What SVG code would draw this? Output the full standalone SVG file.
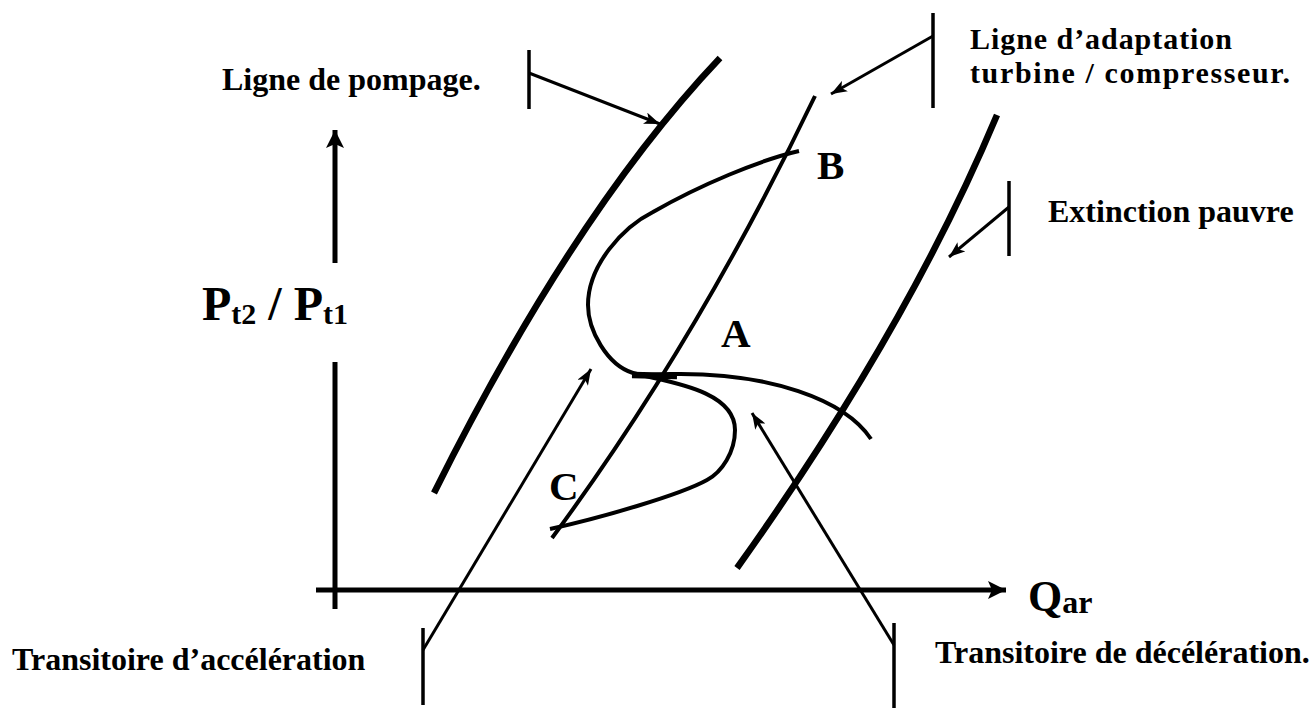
<svg xmlns="http://www.w3.org/2000/svg" width="1316" height="709" viewBox="0 0 1316 709">
<style>
text{font-family:"Liberation Serif","Times New Roman",serif;font-weight:bold;fill:#000}
.lbl{font-size:32px}
.lbl2{font-size:30px}
.pt{font-size:41px}
.thick{fill:none;stroke:#000;stroke-width:6.5;stroke-linecap:butt}
.mid{fill:none;stroke:#000;stroke-width:4}
.thin{fill:none;stroke:#000;stroke-width:3}
.brk{fill:none;stroke:#000;stroke-width:3.5}
.axis{fill:none;stroke:#000;stroke-width:5}
</style>
<defs>
<marker id="ah" markerUnits="userSpaceOnUse" viewBox="0 0 16 12" refX="16" refY="6" markerWidth="16" markerHeight="12" orient="auto">
<path d="M0,0 L16,6 L0,12 L4,6 z" fill="#000"/>
</marker>
<marker id="axh" markerUnits="userSpaceOnUse" viewBox="0 0 18 18" refX="18" refY="9" markerWidth="18" markerHeight="18" orient="auto">
<path d="M0,0 L18,9 L0,18 L4,9 z" fill="#000"/>
</marker>
</defs>
<g id="axes">
<line class="axis" x1="335" y1="263" x2="335" y2="130" marker-end="url(#axh)"/>
<line class="axis" x1="335" y1="362" x2="335" y2="609"/>
<line class="axis" x1="316" y1="590" x2="1006" y2="590" marker-end="url(#axh)"/>
</g>
<g id="ligne-pompage">
<path class="thick" d="M720,58 Q574,212 434,493"/>
</g>
<g id="ligne-adaptation">
<path class="mid" d="M815,96 Q697,342 552,538"/>
</g>
<g id="extinction">
<path class="thick" d="M997,115 Q907,330 737,568"/>
</g>
<g id="trajectoire">
<path class="mid" d="M799,151 C760,160 700,185 653,212 C623,227 588,265 588,305 C588,330 607,365 633,373 C660,381 735,388 735,430 C735,452 722,472 707,480 C680,495 600,518 550,529"/>
<path class="mid" d="M633,376 L670,374 C770,372 845,400 871,439"/>
<line x1="632" y1="375" x2="677" y2="376" stroke="#000" stroke-width="6.5"/>
</g>
<g id="connectors">
<line class="brk" x1="529" y1="50" x2="529" y2="109"/>
<line class="thin" x1="529" y1="73" x2="660" y2="124" marker-end="url(#ah)"/>
<line class="brk" x1="933" y1="13" x2="933" y2="108"/>
<line class="thin" x1="933" y1="36" x2="831" y2="94" marker-end="url(#ah)"/>
<line class="brk" x1="1009" y1="181" x2="1009" y2="256"/>
<line class="thin" x1="1009" y1="207" x2="949" y2="257" marker-end="url(#ah)"/>
<line class="brk" x1="423" y1="628" x2="423" y2="705"/>
<line class="thin" x1="423" y1="650" x2="591" y2="369" marker-end="url(#ah)"/>
<line class="brk" x1="894" y1="623" x2="894" y2="708"/>
<line class="thin" x1="894" y1="645" x2="752" y2="413" marker-end="url(#ah)"/>
</g>
<g id="label-pompage"><text class="lbl" x="222" y="90">Ligne de pompage.</text></g>
<g id="label-adaptation"><text class="lbl2" x="970" y="49" textLength="262" lengthAdjust="spacing">Ligne d’adaptation</text><text class="lbl2" x="970" y="83" textLength="320" lengthAdjust="spacing">turbine / compresseur.</text></g>
<g id="label-extinction"><text class="lbl" x="1048" y="222">Extinction pauvre</text></g>
<g id="label-acceleration"><text class="lbl" x="12" y="670">Transitoire d’accélération</text></g>
<g id="label-deceleration"><text class="lbl" x="935" y="663">Transitoire de décélération.</text></g>
<g id="label-y"><text x="202" y="320" font-size="48">P<tspan font-size="30" dy="4">t2</tspan><tspan dy="-4"> / P</tspan><tspan font-size="30" dy="4">t1</tspan></text></g>
<g id="label-x"><text x="1028" y="611" font-size="44">Q<tspan font-size="32" dy="2">ar</tspan></text></g>
<g id="point-A"><text class="pt" x="721" y="347">A</text></g>
<g id="point-B"><text class="pt" x="817" y="179">B</text></g>
<g id="point-C"><text class="pt" x="549" y="500">C</text></g>
</svg>
